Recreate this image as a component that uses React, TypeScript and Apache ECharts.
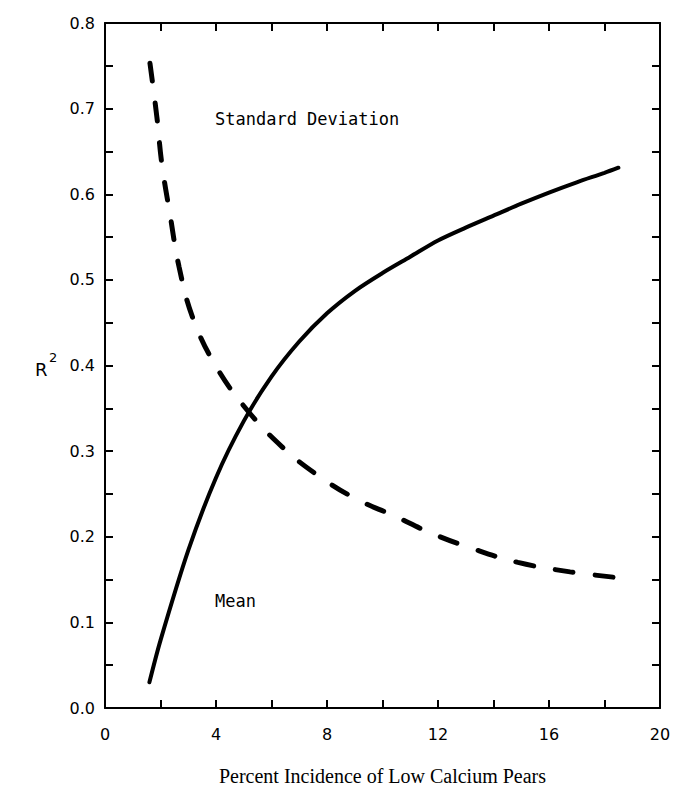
import React, { useEffect, useRef } from "react";
import * as echarts from "echarts";

const meanX = [1.6, 2, 3, 4, 5, 6, 7, 8, 9, 10, 11, 12, 13, 14, 15, 16, 17, 18, 18.5];
const meanY = [0.03, 0.079, 0.184, 0.269, 0.335, 0.387, 0.428, 0.461, 0.487, 0.508, 0.527, 0.546, 0.561, 0.575, 0.589, 0.602, 0.614, 0.625, 0.631];

const sdX = [1.62, 1.87, 2.05, 2.34, 2.67, 3.17, 4.0, 5.12, 6.38, 7.57, 9.0, 10.45, 11.7, 13.26, 14.88, 16.76, 18.56];
const sdY = [0.753, 0.69, 0.635, 0.577, 0.515, 0.455, 0.399, 0.348, 0.305, 0.274, 0.245, 0.224, 0.205, 0.186, 0.17, 0.159, 0.152];

const xLabelTicks = [0, 4, 8, 12, 16, 20];
const yLabelTicks = [0, 0.1, 0.2, 0.3, 0.4, 0.5, 0.6, 0.7, 0.8];

const xTitle = "Percent Incidence of Low Calcium Pears";
const yTitle = "R";
const ySup = "2";
const sdLabel = "Standard Deviation";
const meanLabel = "Mean";

export default function App() {
  const ref = useRef<HTMLDivElement>(null);
  useEffect(() => {
    if (!ref.current) return;
    const chart = echarts.init(ref.current, null, { renderer: "svg" });
    const tick = { show: true, inside: true, length: 8, lineStyle: { color: "#000", width: 2 } };
    const line = { show: true, onZero: false, lineStyle: { color: "#000", width: 2 } };
    const labelFont = { color: "#000", fontFamily: "DejaVu Sans", fontSize: 16 };
    const xFmt = (v: number) => (xLabelTicks.some((t) => Math.abs(t - v) < 1e-6) ? String(Math.round(v)) : "");
    const yFmt = (v: number) => (yLabelTicks.some((t) => Math.abs(t - v) < 1e-6) ? v.toFixed(1) : "");
    chart.setOption({
      animation: false,
      backgroundColor: "#fff",
      grid: { left: 105, top: 23, right: 15, bottom: 80, show: false },
      xAxis: [
        {
          type: "value", min: 0, max: 20, interval: 2, position: "bottom",
          axisLine: line, axisTick: tick, splitLine: { show: false },
          axisLabel: { ...labelFont, margin: 18, formatter: xFmt, showMinLabel: true, showMaxLabel: true },
          name: xTitle, nameLocation: "middle", nameGap: 58,
          nameTextStyle: { color: "#000", fontFamily: "Liberation Serif", fontSize: 20 },
        },
        {
          type: "value", min: 0, max: 20, interval: 2, position: "top",
          axisLine: line, axisTick: tick, splitLine: { show: false }, axisLabel: { show: false },
        },
      ],
      yAxis: [
        {
          type: "value", min: 0, max: 0.8, interval: 0.05, position: "left",
          axisLine: line, axisTick: tick, splitLine: { show: false },
          axisLabel: { ...labelFont, margin: 10, formatter: yFmt, showMinLabel: true, showMaxLabel: true },
        },
        {
          type: "value", min: 0, max: 0.8, interval: 0.05, position: "right",
          axisLine: line, axisTick: tick, splitLine: { show: false }, axisLabel: { show: false },
        },
      ],
      series: [
        {
          type: "line", name: "Mean", smooth: 0.3, showSymbol: false, symbol: "none",
          data: meanX.map((x, i) => [x, meanY[i]]),
          lineStyle: { color: "#000", width: 4, cap: "round" },
        },
        {
          type: "line", name: "Standard Deviation", smooth: 0.4, showSymbol: false, symbol: "none",
          data: sdX.map((x, i) => [x, sdY[i]]),
          lineStyle: { color: "#000", width: 5, type: [18, 22], cap: "round" },
        },
      ],
      graphic: [
        { type: "text", left: 35, top: 360, style: { text: yTitle, fill: "#000", font: "18px DejaVu Sans" } },
        { type: "text", left: 49, top: 351, style: { text: ySup, fill: "#000", font: "13px DejaVu Sans" } },
        { type: "text", left: 215, top: 110, style: { text: sdLabel, fill: "#000", font: "17px DejaVu Sans Mono" } },
        { type: "text", left: 215, top: 592, style: { text: meanLabel, fill: "#000", font: "17px DejaVu Sans Mono" } },
      ],
    });
    return () => chart.dispose();
  }, []);
  return <div ref={ref} style={{ position: "fixed", left: 0, top: 0, width: 675, height: 791, background: "#fff" }} />;
}
